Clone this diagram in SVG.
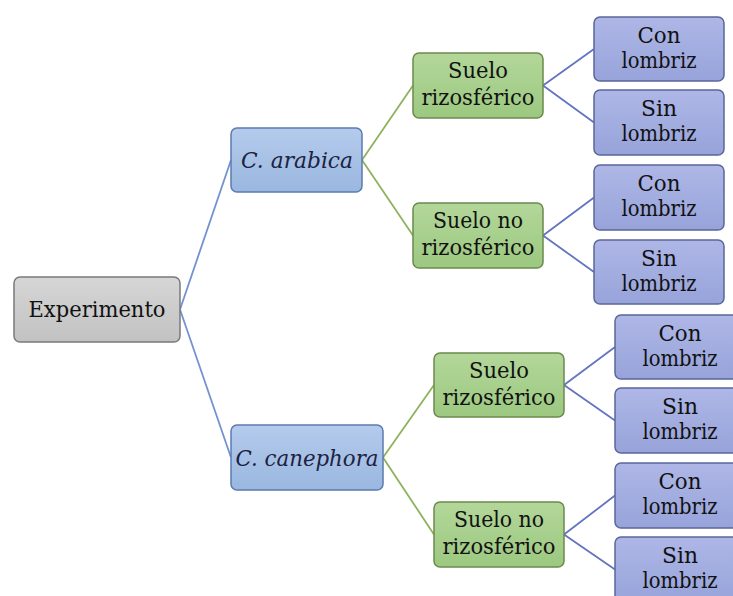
<svg xmlns="http://www.w3.org/2000/svg" width="733" height="596" viewBox="0 0 733 596">
<defs>
<linearGradient id="gGray" x1="0" y1="0" x2="0" y2="1"><stop offset="0" stop-color="#d6d6d6"/><stop offset="1" stop-color="#c2c2c2"/></linearGradient>
<linearGradient id="gBlue" x1="0" y1="0" x2="0" y2="1"><stop offset="0" stop-color="#b4cbec"/><stop offset="1" stop-color="#9ab7e0"/></linearGradient>
<linearGradient id="gGreen" x1="0" y1="0" x2="0" y2="1"><stop offset="0" stop-color="#b3d79a"/><stop offset="1" stop-color="#9cc880"/></linearGradient>
<linearGradient id="gPurple" x1="0" y1="0" x2="0" y2="1"><stop offset="0" stop-color="#aeb7e6"/><stop offset="1" stop-color="#97a3da"/></linearGradient>
</defs>
<style>
text{font-family:'DejaVu Serif','Noto Serif',serif;font-size:21.5px;fill:#111;text-anchor:middle}
.one{font-size:22.5px}
.it{font-style:italic;fill:#1c2240}
rect{stroke-width:1.5}
.gray{fill:url(#gGray);stroke:#7a7a7a}
.blue{fill:url(#gBlue);stroke:#5b7bb0}
.green{fill:url(#gGreen);stroke:#6b8a4c}
.purple{fill:url(#gPurple);stroke:#5a6799}
.cb{stroke:#7393d0;stroke-width:1.8;fill:none}
.cg{stroke:#8db35c;stroke-width:1.8;fill:none}
.cp{stroke:#6474bf;stroke-width:1.8;fill:none}
</style>
<rect width="733" height="596" fill="#ffffff"/>
<g id="connectors">
<path class="cb" d="M180 309.5 L231 160 M180 309.5 L231 457.5"/>
<path class="cg" d="M362 160 L413 85.5 M362 160 L413 235.5"/>
<path class="cg" d="M383 457.5 L434 385 M383 457.5 L434 534.5"/>
<path class="cp" d="M543 85.5 L594 49 M543 85.5 L594 122.5"/>
<path class="cp" d="M543 235.5 L594 197.5 M543 235.5 L594 272"/>
<path class="cp" d="M564 385 L615 347 M564 385 L615 420.5"/>
<path class="cp" d="M564 534.5 L615 495.5 M564 534.5 L615 569.5"/>
</g>
<g id="experimento"><rect class="gray" x="14" y="277" width="166" height="65" rx="6"/><text class="one" x="97" y="317" textLength="137" lengthAdjust="spacingAndGlyphs">Experimento</text></g>
<g id="c-arabica"><rect class="blue" x="231" y="128" width="131" height="64" rx="6"/><text class="one it" x="297" y="168" textLength="112" lengthAdjust="spacingAndGlyphs">C. arabica</text></g>
<g id="c-canephora"><rect class="blue" x="231" y="425" width="152" height="65" rx="6"/><text class="one it" x="307" y="466" textLength="143" lengthAdjust="spacingAndGlyphs">C. canephora</text></g>
<g id="sr1"><rect class="green" x="413" y="53" width="130" height="65" rx="6"/><text x="478" y="78"><tspan textLength="60" lengthAdjust="spacingAndGlyphs">Suelo</tspan><tspan x="478" dy="26.5" textLength="113" lengthAdjust="spacingAndGlyphs">rizosférico</tspan></text></g>
<g id="snr1"><rect class="green" x="413" y="203" width="130" height="65" rx="6"/><text x="478" y="228"><tspan textLength="90" lengthAdjust="spacingAndGlyphs">Suelo no</tspan><tspan x="478" dy="26.5" textLength="113" lengthAdjust="spacingAndGlyphs">rizosférico</tspan></text></g>
<g id="sr2"><rect class="green" x="434" y="353" width="130" height="64" rx="6"/><text x="499" y="378"><tspan textLength="60" lengthAdjust="spacingAndGlyphs">Suelo</tspan><tspan x="499" dy="26.5" textLength="113" lengthAdjust="spacingAndGlyphs">rizosférico</tspan></text></g>
<g id="snr2"><rect class="green" x="434" y="502" width="130" height="65" rx="6"/><text x="499" y="527"><tspan textLength="90" lengthAdjust="spacingAndGlyphs">Suelo no</tspan><tspan x="499" dy="26.5" textLength="113" lengthAdjust="spacingAndGlyphs">rizosférico</tspan></text></g>
<g id="l1c"><rect class="purple" x="594" y="17" width="130" height="64" rx="6"/><text x="659" y="42.5"><tspan textLength="43" lengthAdjust="spacingAndGlyphs">Con</tspan><tspan x="659" dy="25.5" textLength="75" lengthAdjust="spacingAndGlyphs">lombriz</tspan></text></g>
<g id="l1s"><rect class="purple" x="594" y="90" width="130" height="65" rx="6"/><text x="659" y="115.5"><tspan textLength="36" lengthAdjust="spacingAndGlyphs">Sin</tspan><tspan x="659" dy="25.5" textLength="75" lengthAdjust="spacingAndGlyphs">lombriz</tspan></text></g>
<g id="l2c"><rect class="purple" x="594" y="165" width="130" height="65" rx="6"/><text x="659" y="190.5"><tspan textLength="43" lengthAdjust="spacingAndGlyphs">Con</tspan><tspan x="659" dy="25.5" textLength="75" lengthAdjust="spacingAndGlyphs">lombriz</tspan></text></g>
<g id="l2s"><rect class="purple" x="594" y="240" width="130" height="64" rx="6"/><text x="659" y="265.5"><tspan textLength="36" lengthAdjust="spacingAndGlyphs">Sin</tspan><tspan x="659" dy="25.5" textLength="75" lengthAdjust="spacingAndGlyphs">lombriz</tspan></text></g>
<g id="l3c"><rect class="purple" x="615" y="315" width="130" height="64" rx="6"/><text x="680" y="340.5"><tspan textLength="43" lengthAdjust="spacingAndGlyphs">Con</tspan><tspan x="680" dy="25.5" textLength="75" lengthAdjust="spacingAndGlyphs">lombriz</tspan></text></g>
<g id="l3s"><rect class="purple" x="615" y="388" width="130" height="65" rx="6"/><text x="680" y="413.5"><tspan textLength="36" lengthAdjust="spacingAndGlyphs">Sin</tspan><tspan x="680" dy="25.5" textLength="75" lengthAdjust="spacingAndGlyphs">lombriz</tspan></text></g>
<g id="l4c"><rect class="purple" x="615" y="463" width="130" height="65" rx="6"/><text x="680" y="488.5"><tspan textLength="43" lengthAdjust="spacingAndGlyphs">Con</tspan><tspan x="680" dy="25.5" textLength="75" lengthAdjust="spacingAndGlyphs">lombriz</tspan></text></g>
<g id="l4s"><rect class="purple" x="615" y="537" width="130" height="65" rx="6"/><text x="680" y="562.5"><tspan textLength="36" lengthAdjust="spacingAndGlyphs">Sin</tspan><tspan x="680" dy="25.5" textLength="75" lengthAdjust="spacingAndGlyphs">lombriz</tspan></text></g>
</svg>
